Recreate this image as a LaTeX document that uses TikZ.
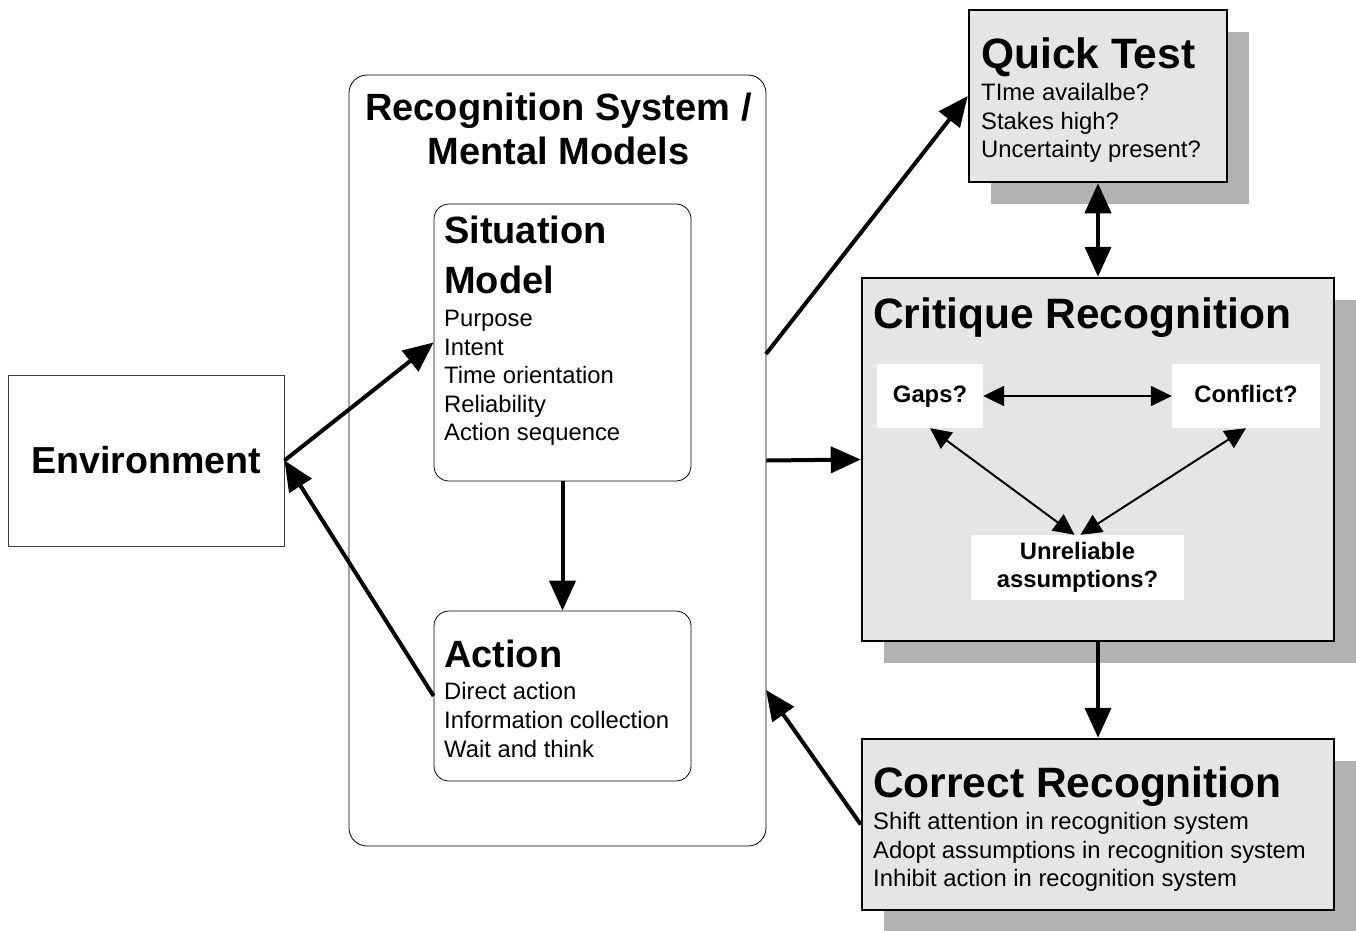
\documentclass[tikz,border=0pt]{standalone}
\usepackage{fontspec}
\setmainfont{Liberation Sans}
\usepackage{xcolor}
\definecolor{panelgrey}{RGB}{229,229,229}
\definecolor{shadowgrey}{RGB}{178,178,178}
\definecolor{edgegrey}{RGB}{60,60,60}
\usepackage{tikz}
\usetikzlibrary{
    arrows.meta,
    shadows
}
\newcommand{\boxtitle}{\fontsize{42.5}{46}\selectfont\bfseries}
\newcommand{\modeltitle}{\fontsize{38}{44}\selectfont\bfseries}

\begin{document}
\begin{tikzpicture}[x=1pt, y=-1pt,
        plain/.style={rectangle, draw=edgegrey, line width=1pt, minimum width=276pt, minimum height=171pt, font=\fontsize{37.6}{44}\selectfont\bfseries},
        system/.style={rectangle, draw=black, line width=0.8pt, rounded corners=18pt, minimum width=417pt, minimum height=771pt},
        model/.style={rectangle, draw=black, line width=0.8pt, rounded corners=15pt, minimum width=257pt},
        test/.style={rectangle, draw=black, line width=2.5pt, fill=panelgrey, drop shadow={shadow xshift=22pt, shadow yshift=-22pt, fill=shadowgrey, opacity=1}},
        query/.style={rectangle, fill=white, minimum height=64pt, align=center, inner sep=2pt, font=\fontsize{23.8}{28.5}\selectfont\bfseries},
        flag/.style={query, text height=17pt, text depth=5pt},
        body/.style={anchor=north west, inner sep=0pt, align=left, font=\fontsize{23.8}{28.6}\selectfont},
        heading/.style={anchor=north, inner sep=0pt, align=center, font=\modeltitle},
        rel/.style={-{Triangle[length=30pt, width=26pt]}, line width=4pt},
        both/.style={{Triangle[length=30pt, width=26pt]}-{Triangle[length=30pt, width=26pt]}, line width=4pt},
        link/.style={{Triangle[length=21pt, width=20pt]}-{Triangle[length=21pt, width=20pt]}, line width=2pt}
    ]
    \useasboundingbox (0,0) rectangle (1356,930);

    % left side
    \node[plain] (env) at (146,460.5) {Environment};

    \node[system] (rec) at (557.5,460.5) {};
    \node[heading] (rectitle) at (558.5,93) {Recognition System /\\Mental Models};

    \node[model, minimum height=277pt] (sit) at (562.5,342.5) {};
    \node[body] (sittext) at (444,216) {{\modeltitle Situation}\\[21pt]{\modeltitle Model}\\[4.5pt]Purpose\\Intent\\Time orientation\\Reliability\\Action sequence};

    \node[model, minimum height=170pt] (act) at (562.5,696) {};
    \node[body] (acttext) at (444,640) {{\modeltitle Action}\\[3.5pt]Direct action\\Information collection\\Wait and think};

    \coordinate (recq) at (766,354);
    \coordinate (recc) at (766,690);

    % right side
    \node[test, minimum width=258pt, minimum height=172pt] (qt) at (1098,96) {};
    \node[body] (qttext) at (981,37) {{\boxtitle Quick Test}\\[4pt]TIme availalbe?\\Stakes high?\\Uncertainty present?};

    \node[test, minimum width=472pt, minimum height=363pt] (crit) at (1098,459.5) {};
    \node[body, font=\boxtitle] (crittitle) at (873,297) {Critique Recognition};
    \node[flag, minimum width=106pt] (gaps) at (930,396) {Gaps?};
    \node[flag, minimum width=148pt] (conf) at (1246,396) {Conflict?};
    \node[query, minimum width=213pt, minimum height=65pt] (unrel) at (1077.5,567.5) {Unreliable\\assumptions?};

    \node[test, minimum width=472pt, minimum height=171pt] (cor) at (1098,824.5) {};
    \node[body] (cortext) at (873,766) {{\boxtitle Correct Recognition}\\[4pt]Shift attention in recognition system\\Adopt assumptions in recognition system\\Inhibit action in recognition system};

    \draw[rel] (env.east) -- (sit.west);
    \draw[rel] (act.west) -- (env.east);
    \draw[rel] (sit.south) -- (act.north);
    \draw[rel] (recq) -- (qt.west);
    \draw[rel] (rec.east) -- (crit.west);
    \draw[both] (qt.south) -- (crit.north);
    \draw[rel] (crit.south) -- (cor.north);
    \draw[rel] (cor.west) -- (recc);
    \draw[link] (gaps.east) -- (conf.west);
    \draw[link] (gaps.south) -- ([xshift=-3pt]unrel.north);
    \draw[link] (conf.south) -- ([xshift=3pt]unrel.north);
\end{tikzpicture}
\end{document}
